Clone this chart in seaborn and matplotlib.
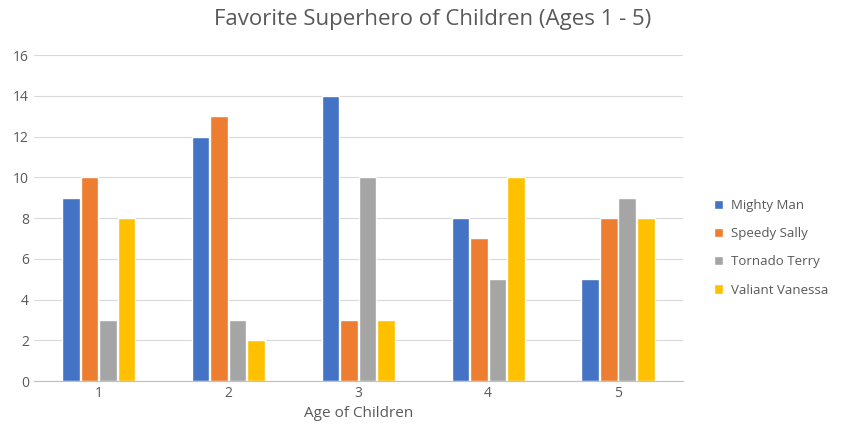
import matplotlib
matplotlib.use('Agg')
import matplotlib.pyplot as plt
import seaborn as sns
import pandas as pd

ages = ['1', '2', '3', '4', '5']
heroes = ['Mighty Man', 'Speedy Sally', 'Tornado Terry', 'Valiant Vanessa']
mighty_man = [9, 12, 14, 8, 5]
speedy_sally = [10, 13, 3, 7, 8]
tornado_terry = [3, 3, 10, 5, 9]
valiant_vanessa = [8, 2, 3, 10, 8]
colors = ['#4472C4', '#ED7D31', '#A5A5A5', '#FFC000']

df = pd.DataFrame({
    'age': ages * 4,
    'hero': [h for h in heroes for _ in ages],
    'count': mighty_man + speedy_sally + tornado_terry + valiant_vanessa,
})

sns.set_style('white')
plt.rcParams['font.family'] = ['Open Sans', 'DejaVu Sans']

fig = plt.figure(figsize=(8.41, 4.38), dpi=100)
ax = fig.add_axes([0.040, 0.130, 0.772, 0.744])

sns.barplot(data=df, x='age', y='count', hue='hero',
            palette=colors, width=0.57, gap=0.05, ax=ax, saturation=1)

ax.set_ylim(0, 16)
ax.set_yticks(range(0, 17, 2))
ax.yaxis.grid(True, color='#D9D9D9', linewidth=0.8)
ax.set_axisbelow(True)
for s in ['top', 'right', 'left']:
    ax.spines[s].set_visible(False)
ax.spines['bottom'].set_color('#BFBFBF')
ax.tick_params(axis='both', length=0, labelsize=10, colors='#595959')
ax.set_ylabel('')
ax.set_xlabel('Age of Children', fontsize=11, color='#595959', labelpad=4)

fig.suptitle('Favorite Superhero of Children (Ages 1 - 5)', fontsize=16,
             color='#595959', x=0.515, y=0.98)

handles, labels = ax.get_legend_handles_labels()
ax.legend(handles, labels, loc='center left', bbox_to_anchor=(0.835, 0.434),
          bbox_transform=fig.transFigure,
          frameon=False, fontsize=9.5, labelcolor='#595959',
          handlelength=0.7, handleheight=0.7, handletextpad=0.6,
          labelspacing=1.15)

fig.savefig('out.png', dpi=100)
